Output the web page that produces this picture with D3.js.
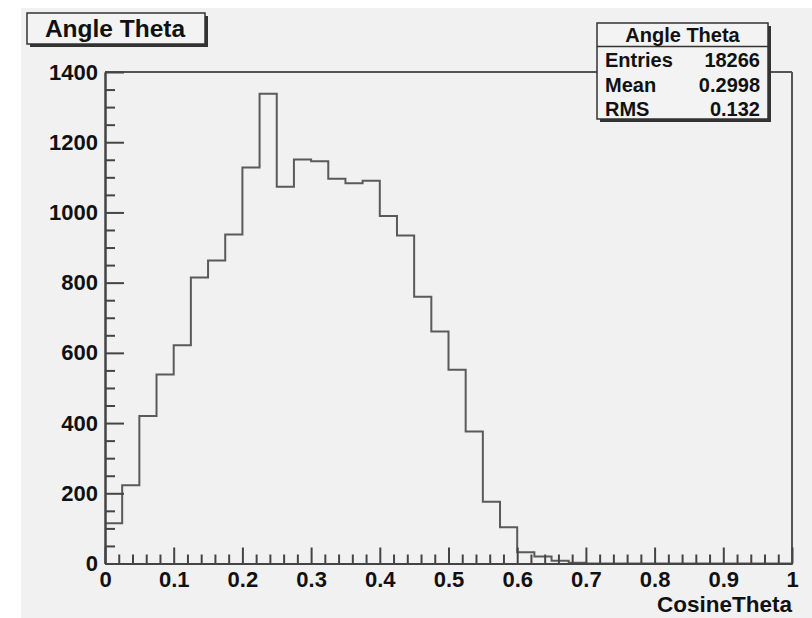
<!DOCTYPE html>
<html>
<head>
<meta charset="utf-8">
<script src="https://cdn.jsdelivr.net/npm/d3@7"></script>
<style>
  html, body { margin: 0; padding: 0; background: #ffffff; }
  svg { display: block; }
  text { font-family: "Liberation Sans", Arial, Helvetica, sans-serif; font-weight: bold; fill: #111; }
</style>
</head>
<body>
<svg id="chart" width="812" height="618"></svg>
<script>
// Histogram of cos(theta): 40 bins of width 0.025 over [0, 1]
const binEdges = d3.range(0, 40).map(i => i * 0.025);
const counts = [
  115, 223, 420, 538, 622, 815, 863, 937, 1128, 1338,
  1073, 1151, 1146, 1096, 1083, 1090, 990, 934, 760, 661,
  552, 376, 176, 103, 32, 20, 8, 2, 0, 0,
  0, 0, 0, 0, 0, 0, 0, 0, 0, 0
];
const xTicks = [0, 0.1, 0.2, 0.3, 0.4, 0.5, 0.6, 0.7, 0.8, 0.9, 1];
const xTickLabels = ["0", "0.1", "0.2", "0.3", "0.4", "0.5", "0.6", "0.7", "0.8", "0.9", "1"];
const yTicks = [0, 200, 400, 600, 800, 1000, 1200, 1400];
const statLabels = ["Entries", "Mean", "RMS"];
const statValues = ["18266", "0.2998", "0.132"];
const histTitle = "Angle Theta";
const xTitle = "CosineTheta";

const svg = d3.select("#chart");
const W = 812, H = 618;
const plotL = 105, plotR = 792, plotT = 72, plotB = 563.5;

// pad background
svg.append("rect").attr("x", 21).attr("y", 8).attr("width", W - 21).attr("height", H - 8)
  .attr("fill", "#f1f1f1");

const x = d3.scaleLinear().domain([0, 1]).range([plotL, plotR]);
const y = d3.scaleLinear().domain([0, 1400]).range([plotB, plotT]);

const axisColor = "#444";

// frame top and right
svg.append("line").attr("x1", plotL).attr("x2", plotR).attr("y1", plotT).attr("y2", plotT)
  .attr("stroke", "#555").attr("stroke-width", 2);
svg.append("line").attr("x1", plotR).attr("x2", plotR).attr("y1", plotT).attr("y2", plotB)
  .attr("stroke", "#555").attr("stroke-width", 2);

// histogram outline
const pts = binEdges.map((e, i) => [e, counts[i]]);
pts.push([1, counts[counts.length - 1]]);
const line = d3.line().x(d => x(d[0])).y(d => y(d[1])).curve(d3.curveStepAfter);
svg.append("path").attr("d", line(pts)).attr("fill", "none")
  .attr("stroke", "#5a5a5a").attr("stroke-width", 2);

// x axis: minor ticks then major ticks with labels
const xMinor = d3.range(0, 51).map(i => i * 0.02).filter(v => Math.abs(v * 10 - Math.round(v * 10)) > 1e-6);
const gxMinor = svg.append("g").attr("transform", `translate(0,${plotB})`)
  .call(d3.axisBottom(x).tickValues(xMinor).tickSizeInner(-9).tickSizeOuter(0).tickFormat(""));
const gx = svg.append("g").attr("transform", `translate(0,${plotB})`)
  .call(d3.axisBottom(x).tickValues(xTicks).tickSizeInner(-16).tickSizeOuter(0).tickPadding(8)
    .tickFormat((d, i) => xTickLabels[i]));

// y axis: minor ticks then major ticks with labels
const yMinor = d3.range(0, 29).map(i => i * 50).filter(v => v % 200 !== 0);
const gyMinor = svg.append("g").attr("transform", `translate(${plotL},0)`)
  .call(d3.axisLeft(y).tickValues(yMinor).tickSizeInner(-10).tickSizeOuter(0).tickFormat(""));
const gy = svg.append("g").attr("transform", `translate(${plotL},0)`)
  .call(d3.axisLeft(y).tickValues(yTicks).tickSizeInner(-19).tickSizeOuter(0).tickPadding(7)
    .tickFormat(d3.format("d")));

[gxMinor, gx, gyMinor, gy].forEach(g => {
  g.selectAll("path.domain").attr("stroke", axisColor).attr("stroke-width", 2);
  g.selectAll(".tick line").attr("stroke", axisColor).attr("stroke-width", 2);
  g.selectAll(".tick text").attr("font-size", 22).attr("font-family", "Liberation Sans, Arial, sans-serif")
    .attr("font-weight", "bold").attr("fill", "#111");
});

// axis title
svg.append("text").attr("x", plotR).attr("y", 612).attr("text-anchor", "end")
  .attr("font-size", 22.5).text(xTitle);

// boxed pave with a drop shadow
function pave(x0, y0, w, h) {
  svg.append("rect").attr("x", x0 + 3).attr("y", y0 + 3).attr("width", w).attr("height", h)
    .attr("fill", "#333");
  svg.append("rect").attr("x", x0).attr("y", y0).attr("width", w).attr("height", h)
    .attr("fill", "#f3f3f3").attr("stroke", "#333").attr("stroke-width", 1.5);
}

// title box
pave(27, 13, 178, 31);
svg.append("text").attr("x", 115).attr("y", 37).attr("text-anchor", "middle")
  .attr("font-size", 24.5).text(histTitle);

// statistics box
const sx = 597, sy = 23, sw = 171, sh = 96;
pave(sx, sy, sw, sh);
svg.append("line").attr("x1", sx).attr("x2", sx + sw).attr("y1", 46.5).attr("y2", 46.5)
  .attr("stroke", "#333").attr("stroke-width", 1.5);
svg.append("text").attr("x", sx + sw / 2).attr("y", 42).attr("text-anchor", "middle")
  .attr("font-size", 20).text(histTitle);
const rowY = [68, 92.5, 117];
statLabels.forEach((lab, i) => {
  svg.append("text").attr("x", 605).attr("y", rowY[i] - 1).attr("font-size", 20).text(lab);
  svg.append("text").attr("x", 760).attr("y", rowY[i] - 1).attr("text-anchor", "end")
    .attr("font-size", 20).text(statValues[i]);
});
</script>
</body>
</html>
